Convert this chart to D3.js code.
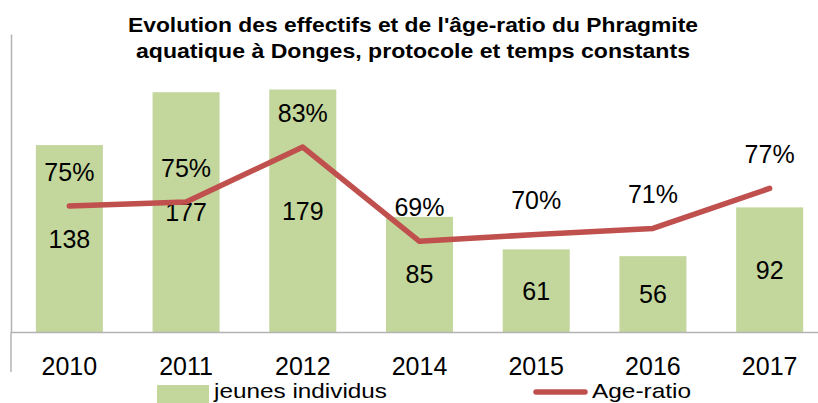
<!DOCTYPE html>
<html>
<head>
<meta charset="utf-8">
<script src="https://cdn.jsdelivr.net/npm/d3@7"></script>
<style>
body { margin: 0; background: #fff; }
text { font-family: "Liberation Sans", Arial, sans-serif; fill: #000; }
</style>
</head>
<body>
<svg width="818" height="403"></svg>
<script>
var years = ["2010", "2011", "2012", "2014", "2015", "2016", "2017"];
var jeunes = [138, 177, 179, 85, 61, 56, 92];
var ageRatio = [0.746, 0.752, 0.833, 0.694, 0.704, 0.713, 0.772];
var titleLines = ["Evolution des effectifs et de l'âge-ratio du Phragmite",
                  "aquatique à Donges, protocole et temps constants"];
var legendLabels = ["jeunes individus", "Age-ratio"];

var barColor = "#c3d69b";
var lineColor = "#c0504d";
var axisColor = "#b3b3b3";
var formatPercent = d3.format(".0%");

var svg = d3.select("svg");

// category scale, plot runs off the right edge like the original
var x = d3.scaleBand()
	.domain(years)
	.range([11, 828])
	.paddingInner(0.426)
	.paddingOuter(0.213);

// bars on the primary axis
var yBar = d3.scaleLinear()
	.domain([0, 220])
	.range([332, 34]);

// age-ratio on a hidden secondary axis
var yRatio = d3.scaleLinear()
	.domain([0.5, 0.9])
	.range([372.8, 101.6]);

// title, stretched to the width of the original two lines
svg.append("g")
	.selectAll("text")
	.data(titleLines)
	.enter().append("text")
	.attr("x", 413)
	.attr("y", function(d, i) { return 32 + i * 26; })
	.attr("text-anchor", "middle")
	.attr("textLength", function(d, i) { return [570, 554][i]; })
	.attr("lengthAdjust", "spacingAndGlyphs")
	.style("font-weight", "bold")
	.style("font-size", "21px")
	.text(function(d) { return d; });

// bars
svg.append("g")
	.selectAll("rect")
	.data(jeunes)
	.enter().append("rect")
	.attr("x", function(d, i) { return x(years[i]); })
	.attr("y", function(d) { return yBar(d); })
	.attr("width", x.bandwidth())
	.attr("height", function(d) { return yBar(0) - yBar(d); })
	.attr("fill", barColor);

// left axis line, runs down through the label area
var yAxis = d3.axisLeft(yBar).ticks(0).tickSizeOuter(0);
var gy = svg.append("g")
	.attr("transform", "translate(" + x.range()[0] + ",0)")
	.call(yAxis);
gy.select(".domain").attr("stroke", axisColor).attr("stroke-width", 1.5);
svg.append("line")
	.attr("x1", x.range()[0]).attr("x2", x.range()[0])
	.attr("y1", yBar(0)).attr("y2", 372)
	.attr("stroke", axisColor).attr("stroke-width", 1.5);

// category axis
var xAxis = d3.axisBottom(x).tickSize(0).tickPadding(0);
var gx = svg.append("g")
	.attr("transform", "translate(0," + yBar(0) + ")")
	.call(xAxis);
gx.select(".domain").attr("stroke", axisColor).attr("stroke-width", 1.5);
gx.selectAll("text")
	.attr("y", 43)
	.attr("dy", 0)
	.style("font-family", "\"Liberation Sans\", Arial, sans-serif")
	.style("font-size", "25px")
	.attr("fill", "#000");

// bar value labels
svg.append("g")
	.selectAll("text")
	.data(jeunes)
	.enter().append("text")
	.attr("x", function(d, i) { return x(years[i]) + x.bandwidth() / 2; })
	.attr("y", function(d) { return (yBar(d) + yBar(0)) / 2; })
	.attr("dy", "0.36em")
	.attr("text-anchor", "middle")
	.style("font-size", "25px")
	.text(function(d) { return d; });

// age-ratio line
var line = d3.line()
	.x(function(d, i) { return x(years[i]) + x.bandwidth() / 2; })
	.y(function(d) { return yRatio(d); });

svg.append("path")
	.datum(ageRatio)
	.attr("d", line)
	.attr("fill", "none")
	.attr("stroke", lineColor)
	.attr("stroke-width", 5.5)
	.attr("stroke-linecap", "round")
	.attr("stroke-linejoin", "round");

// percentage labels above the line
svg.append("g")
	.selectAll("text")
	.data(ageRatio)
	.enter().append("text")
	.attr("x", function(d, i) { return x(years[i]) + x.bandwidth() / 2; })
	.attr("y", function(d) { return yRatio(d) - 34; })
	.attr("dy", "0.36em")
	.attr("text-anchor", "middle")
	.style("font-size", "25px")
	.text(function(d) { return formatPercent(d); });

// legend, squeezed into the bottom strip
var legend = svg.append("g");
legend.append("rect")
	.attr("x", 157).attr("y", 385)
	.attr("width", 52).attr("height", 18)
	.attr("fill", barColor);
legend.append("text")
	.attr("x", 214).attr("y", 398)
	.attr("textLength", 173)
	.attr("lengthAdjust", "spacingAndGlyphs")
	.style("font-size", "21px")
	.text(legendLabels[0]);
legend.append("line")
	.attr("x1", 536).attr("x2", 585)
	.attr("y1", 392).attr("y2", 392)
	.attr("stroke", lineColor)
	.attr("stroke-width", 5.5)
	.attr("stroke-linecap", "round");
legend.append("text")
	.attr("x", 592).attr("y", 398)
	.attr("textLength", 99)
	.attr("lengthAdjust", "spacingAndGlyphs")
	.style("font-size", "21px")
	.text(legendLabels[1]);
</script>
</body>
</html>
